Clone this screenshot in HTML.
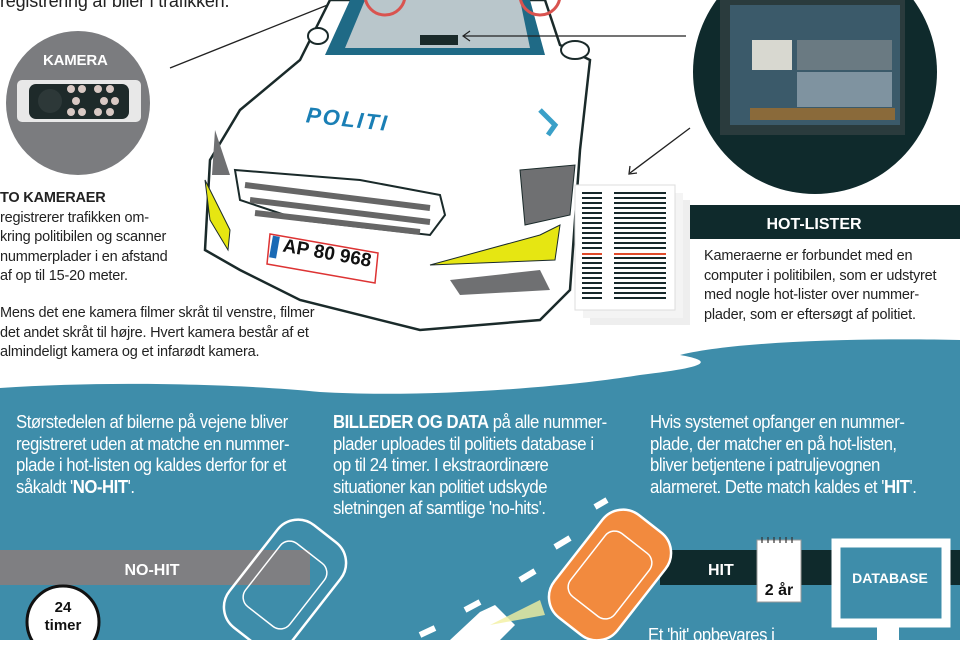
<!DOCTYPE html>
<html><head><meta charset="utf-8"><style>
*{margin:0;padding:0;box-sizing:border-box}
body{width:960px;height:640px;overflow:hidden;background:#fff;position:relative;font-family:"Liberation Sans","DejaVu Sans",sans-serif;}
.t{position:absolute;font-size:14.5px;line-height:19.6px;color:#222;letter-spacing:-0.2px}
.w{position:absolute;font-size:18px;line-height:21.5px;color:#fff;letter-spacing:-0.5px;white-space:nowrap;transform:scaleX(.93);transform-origin:0 0}
svg{position:absolute;left:0;top:0}
</style></head><body>
<svg width="960" height="640" viewBox="0 0 960 640">
<path d="M0,388 C120,380 250,385 320,392 C420,398 560,388 640,375 C700,368 720,362 680,355 C740,340 880,338 960,340 L960,640 L0,640 Z" fill="#3e8daa"/>
<circle cx="78" cy="103" r="72" fill="#7b7c7f"/>
<rect x="17" y="80" width="124" height="42" rx="5" fill="#e8e8e8"/>
<rect x="29" y="84" width="100" height="35" rx="7" fill="#1e2a2a"/>
<circle cx="50" cy="101" r="12" fill="#2d3838"/>
<g fill="#d9c9c4"><circle cx="71" cy="89" r="4"/><circle cx="82" cy="89" r="4"/><circle cx="98" cy="89" r="4"/><circle cx="110" cy="89" r="4"/><circle cx="76" cy="101" r="4"/><circle cx="104" cy="101" r="4"/><circle cx="115" cy="101" r="4"/><circle cx="71" cy="112" r="4"/><circle cx="82" cy="112" r="4"/><circle cx="98" cy="112" r="4"/><circle cx="110" cy="112" r="4"/></g>
<line x1="170" y1="68" x2="340" y2="0" stroke="#222" stroke-width="1.3"/>
<path d="M330,0 L545,0 L560,45 L590,60 L580,150 L570,290 L540,320 L420,330 L300,300 L240,270 L205,250 L210,160 L240,110 L300,60 Z" fill="#fff" stroke="#1a2a2a" stroke-width="2.5"/>
<path d="M350,0 L530,0 L545,55 L325,55 Z" fill="#1f6a86"/>
<path d="M365,0 L520,0 L530,48 L345,48 Z" fill="#b9c6cb"/>
<circle cx="385" cy="-5" r="20" fill="none" stroke="#d9534f" stroke-width="3"/>
<circle cx="540" cy="-5" r="20" fill="none" stroke="#d9534f" stroke-width="3"/>
<rect x="420" y="35" width="38" height="10" fill="#1a2a2a"/>
<ellipse cx="318" cy="36" rx="10" ry="8" fill="#fff" stroke="#1a2a2a" stroke-width="2"/>
<ellipse cx="575" cy="50" rx="14" ry="9" fill="#fff" stroke="#1a2a2a" stroke-width="2"/>
<path d="M235,170 L360,180 L440,195 L445,215 L430,235 L300,220 L240,200 Z" fill="#fff" stroke="#1a2a2a" stroke-width="2"/>
<g stroke="#666" stroke-width="6" fill="none"><path d="M245,185 L430,208"/><path d="M250,200 L430,222"/><path d="M255,213 L420,232"/></g>
<path d="M205,180 L230,230 L228,250 L210,220 Z" fill="#e6e612" stroke="#1a2a2a"/>
<path d="M430,265 L540,235 L560,225 L555,260 Z" fill="#e6e612" stroke="#1a2a2a"/>
<path d="M450,280 L540,270 L550,290 L460,295 Z" fill="#6f7072"/>
<path d="M520,170 L575,165 L570,215 L525,225 Z" fill="#6f7072" stroke="#1a2a2a"/>
<path d="M215,130 L230,175 L212,175 Z" fill="#6f7072"/>
<text x="306" y="128" font-size="22" font-weight="bold" font-style="italic" fill="#1a7fb5" transform="rotate(6 360 120)" letter-spacing="2">POLITI</text>
<path d="M270,234 L378,253 L375,283 L267,264 Z" fill="#fff" stroke="#d33" stroke-width="1.5"/>
<rect x="271" y="236" width="7" height="22" fill="#1a6ab5" transform="rotate(10 274 247)"/>
<text x="282" y="258" font-size="19" font-weight="bold" fill="#111" transform="rotate(10 320 255)">AP 80 968</text>
<path d="M540,110 L555,125 L548,135" stroke="#3aa0c8" stroke-width="5" fill="none"/>
<line x1="463" y1="36" x2="686" y2="36" stroke="#222" stroke-width="1.2"/>
<path d="M470,31 L463,36 L470,41" fill="none" stroke="#222" stroke-width="1.2"/>
<line x1="690" y1="128" x2="630" y2="173" stroke="#222" stroke-width="1.3"/>
<path d="M630,166 L629,174 L637,173" fill="none" stroke="#222" stroke-width="1.3"/>
<circle cx="815" cy="72" r="122" fill="#0f2a2c"/>
<rect x="720" y="0" width="185" height="135" fill="#2a3b3d"/>
<rect x="730" y="5" width="170" height="120" fill="#3b5a6a"/>
<rect x="752" y="40" width="40" height="30" fill="#d8d8d0"/>
<rect x="797" y="40" width="95" height="30" fill="#6a7a82"/>
<rect x="797" y="72" width="95" height="35" fill="#7f93a0"/>
<rect x="750" y="108" width="145" height="12" fill="#8a6a3a"/>
<rect x="590" y="200" width="100" height="125" fill="#eee"/>
<rect x="583" y="193" width="100" height="125" fill="#f4f4f4"/>
<rect x="575" y="185" width="100" height="125" fill="#fff" stroke="#ddd"/>
<g stroke="#16282a" stroke-width="2">
<path d="M582,193h20M582,198h20M582,203h20M582,208h20M582,213h20M582,218h20M582,223h20M582,228h20M582,233h20M582,238h20M582,243h20M582,248h20M582,258h20M582,263h20M582,268h20M582,273h20M582,278h20M582,283h20M582,288h20M582,293h20M582,298h20"/>
<path d="M614,193h52M614,198h52M614,203h52M614,208h52M614,213h52M614,218h52M614,223h52M614,228h52M614,233h52M614,238h52M614,243h52M614,248h52M614,258h52M614,263h52M614,268h52M614,273h52M614,278h52M614,283h52M614,288h52M614,293h52M614,298h52"/>
</g>
<path d="M582,254h20M614,254h52" stroke="#e04a2a" stroke-width="2"/>
<rect x="690" y="205" width="270" height="34" fill="#0f2a2c"/>
<text x="814" y="229" font-size="16" font-weight="bold" fill="#fff" text-anchor="middle">HOT-LISTER</text>
<rect x="0" y="550" width="310" height="35" fill="#7f7f82"/>
<text x="152" y="575" font-size="16" font-weight="bold" fill="#fff" text-anchor="middle">NO-HIT</text>
<rect x="660" y="550" width="300" height="35" fill="#0f2a2c"/>
<text x="708" y="575" font-size="16" font-weight="bold" fill="#fff">HIT</text>
<rect x="757" y="540" width="44" height="62" fill="#fff" stroke="#999"/>
<g stroke="#333" stroke-width="1.2"><path d="M762,537v6M768,537v6M774,537v6M780,537v6M786,537v6M792,537v6"/></g>
<text x="779" y="595" font-size="16" font-weight="bold" fill="#111" text-anchor="middle">2 år</text>
<rect x="836" y="543" width="110" height="80" fill="#3e8daa" stroke="#fff" stroke-width="9"/>
<text x="890" y="583" font-size="14" font-weight="bold" fill="#fff" text-anchor="middle">DATABASE</text>
<rect x="877" y="627" width="22" height="13" fill="#fff"/>
<g stroke="#fff" stroke-width="6"><path d="M595,507 L607,500M555,547 L570,538M520,580 L535,571M465,610 L480,602M420,635 L435,628"/></g>
<g transform="rotate(-52 285 585)"><rect x="220" y="545" width="130" height="80" rx="26" fill="none" stroke="#fff" stroke-width="2.5"/><rect x="245" y="557" width="80" height="56" rx="12" fill="none" stroke="#fff" stroke-width="1.5"/></g>
<g transform="rotate(-52 610 575)"><rect x="545" y="535" width="130" height="80" rx="26" fill="#f28a3e" stroke="#fff" stroke-width="2.5"/><rect x="570" y="547" width="80" height="56" rx="12" fill="none" stroke="#fff" stroke-width="1.5"/></g>
<path d="M450,640 L480,612 L495,605 L515,625 L500,640 Z" fill="#fff"/>
<path d="M490,625 L540,600 L545,615 Z" fill="#f2f0a0" opacity=".8"/>
<circle cx="63" cy="622" r="36" fill="#fff" stroke="#111" stroke-width="3"/>
<text x="63" y="612" font-size="15" font-weight="bold" fill="#111" text-anchor="middle">24</text>
<text x="63" y="630" font-size="15" font-weight="bold" fill="#111" text-anchor="middle">timer</text>
</svg>
<div class="t" style="left:0;top:-9px;font-size:18px;line-height:20px">registrering af biler i trafikken.</div>
<div class="t" style="left:43px;top:51px;font-size:15px;font-weight:bold;color:#fff">KAMERA</div>
<div class="t" style="left:0;top:189px"><b>TO KAMERAER</b><br>registrerer trafikken om-<br>kring politibilen og scanner<br>nummerplader i en afstand<br>af op til 15-20 meter.</div>
<div class="t" style="left:0;top:304px">Mens det ene kamera filmer skråt til venstre, filmer<br>det andet skråt til højre. Hvert kamera består af et<br>almindeligt kamera og et infarødt kamera.</div>
<div class="t" style="left:704px;top:247px">Kameraerne er forbundet med en<br>computer i politibilen, som er udstyret<br>med nogle hot-lister over nummer-<br>plader, som er eftersøgt af politiet.</div>
<div class="w" style="left:16px;top:412px">Størstedelen af bilerne på vejene bliver<br>registreret uden at matche en nummer-<br>plade i hot-listen og kaldes derfor for et<br>såkaldt '<b>NO-HIT</b>'.</div>
<div class="w" style="left:333px;top:412px"><b>BILLEDER OG DATA</b> på alle nummer-<br>plader uploades til politiets database i<br>op til 24 timer. I ekstraordinære<br>situationer kan politiet udskyde<br>sletningen af samtlige 'no-hits'.</div>
<div class="w" style="left:650px;top:412px">Hvis systemet opfanger en nummer-<br>plade, der matcher en på hot-listen,<br>bliver betjentene i patruljevognen<br>alarmeret. Dette match kaldes et '<b>HIT</b>'.</div>
<div class="w" style="left:648px;top:625px">Et 'hit' opbevares i</div>
</body></html>
